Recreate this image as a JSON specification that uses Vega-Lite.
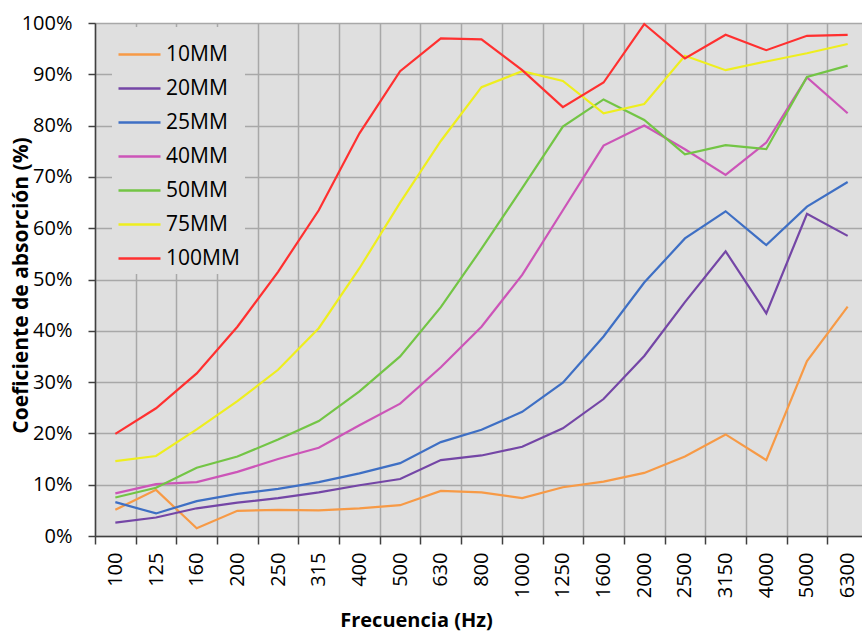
{
  "$schema": "https://vega.github.io/schema/vega-lite/v6.json",
  "width": 767,
  "height": 513,
  "autosize": {"type": "none"},
  "padding": {"left": 95, "top": 23, "right": 0, "bottom": 96},
  "background": "white",
  "config": {"view": {"fill": "#dfdfdf", "stroke": null}, "font": "Open Sans"},
  "datasets": {
    "raw": [
      {"s": "10MM", "f": "100", "v": 5.1}, {"s": "10MM", "f": "125", "v": 9.0}, {"s": "10MM", "f": "160", "v": 1.5}, {"s": "10MM", "f": "200", "v": 4.9}, {"s": "10MM", "f": "250", "v": 5.1}, {"s": "10MM", "f": "315", "v": 5.0}, {"s": "10MM", "f": "400", "v": 5.4}, {"s": "10MM", "f": "500", "v": 6.0}, {"s": "10MM", "f": "630", "v": 8.8}, {"s": "10MM", "f": "800", "v": 8.5}, {"s": "10MM", "f": "1000", "v": 7.4}, {"s": "10MM", "f": "1250", "v": 9.5}, {"s": "10MM", "f": "1600", "v": 10.6}, {"s": "10MM", "f": "2000", "v": 12.3}, {"s": "10MM", "f": "2500", "v": 15.5}, {"s": "10MM", "f": "3150", "v": 19.8}, {"s": "10MM", "f": "4000", "v": 14.8}, {"s": "10MM", "f": "5000", "v": 34.1}, {"s": "10MM", "f": "6300", "v": 44.7},
      {"s": "20MM", "f": "100", "v": 2.6}, {"s": "20MM", "f": "125", "v": 3.6}, {"s": "20MM", "f": "160", "v": 5.4}, {"s": "20MM", "f": "200", "v": 6.5}, {"s": "20MM", "f": "250", "v": 7.4}, {"s": "20MM", "f": "315", "v": 8.5}, {"s": "20MM", "f": "400", "v": 9.9}, {"s": "20MM", "f": "500", "v": 11.1}, {"s": "20MM", "f": "630", "v": 14.8}, {"s": "20MM", "f": "800", "v": 15.7}, {"s": "20MM", "f": "1000", "v": 17.4}, {"s": "20MM", "f": "1250", "v": 21.0}, {"s": "20MM", "f": "1600", "v": 26.7}, {"s": "20MM", "f": "2000", "v": 35.1}, {"s": "20MM", "f": "2500", "v": 45.6}, {"s": "20MM", "f": "3150", "v": 55.5}, {"s": "20MM", "f": "4000", "v": 43.4}, {"s": "20MM", "f": "5000", "v": 62.8}, {"s": "20MM", "f": "6300", "v": 58.5},
      {"s": "25MM", "f": "100", "v": 6.6}, {"s": "25MM", "f": "125", "v": 4.4}, {"s": "25MM", "f": "160", "v": 6.8}, {"s": "25MM", "f": "200", "v": 8.2}, {"s": "25MM", "f": "250", "v": 9.2}, {"s": "25MM", "f": "315", "v": 10.5}, {"s": "25MM", "f": "400", "v": 12.2}, {"s": "25MM", "f": "500", "v": 14.2}, {"s": "25MM", "f": "630", "v": 18.3}, {"s": "25MM", "f": "800", "v": 20.7}, {"s": "25MM", "f": "1000", "v": 24.2}, {"s": "25MM", "f": "1250", "v": 29.9}, {"s": "25MM", "f": "1600", "v": 38.9}, {"s": "25MM", "f": "2000", "v": 49.4}, {"s": "25MM", "f": "2500", "v": 58.0}, {"s": "25MM", "f": "3150", "v": 63.3}, {"s": "25MM", "f": "4000", "v": 56.7}, {"s": "25MM", "f": "5000", "v": 64.2}, {"s": "25MM", "f": "6300", "v": 69.0},
      {"s": "40MM", "f": "100", "v": 8.3}, {"s": "40MM", "f": "125", "v": 10.1}, {"s": "40MM", "f": "160", "v": 10.5}, {"s": "40MM", "f": "200", "v": 12.5}, {"s": "40MM", "f": "250", "v": 15.0}, {"s": "40MM", "f": "315", "v": 17.2}, {"s": "40MM", "f": "400", "v": 21.6}, {"s": "40MM", "f": "500", "v": 25.8}, {"s": "40MM", "f": "630", "v": 32.9}, {"s": "40MM", "f": "800", "v": 40.8}, {"s": "40MM", "f": "1000", "v": 50.9}, {"s": "40MM", "f": "1250", "v": 63.5}, {"s": "40MM", "f": "1600", "v": 76.1}, {"s": "40MM", "f": "2000", "v": 80.0}, {"s": "40MM", "f": "2500", "v": 75.4}, {"s": "40MM", "f": "3150", "v": 70.4}, {"s": "40MM", "f": "4000", "v": 76.7}, {"s": "40MM", "f": "5000", "v": 89.4}, {"s": "40MM", "f": "6300", "v": 82.4},
      {"s": "50MM", "f": "100", "v": 7.5}, {"s": "50MM", "f": "125", "v": 9.4}, {"s": "50MM", "f": "160", "v": 13.3}, {"s": "50MM", "f": "200", "v": 15.5}, {"s": "50MM", "f": "250", "v": 18.8}, {"s": "50MM", "f": "315", "v": 22.4}, {"s": "50MM", "f": "400", "v": 28.2}, {"s": "50MM", "f": "500", "v": 35.0}, {"s": "50MM", "f": "630", "v": 44.6}, {"s": "50MM", "f": "800", "v": 56.0}, {"s": "50MM", "f": "1000", "v": 67.8}, {"s": "50MM", "f": "1250", "v": 79.8}, {"s": "50MM", "f": "1600", "v": 85.1}, {"s": "50MM", "f": "2000", "v": 81.1}, {"s": "50MM", "f": "2500", "v": 74.4}, {"s": "50MM", "f": "3150", "v": 76.2}, {"s": "50MM", "f": "4000", "v": 75.4}, {"s": "50MM", "f": "5000", "v": 89.5}, {"s": "50MM", "f": "6300", "v": 91.7},
      {"s": "75MM", "f": "100", "v": 14.6}, {"s": "75MM", "f": "125", "v": 15.6}, {"s": "75MM", "f": "160", "v": 20.8}, {"s": "75MM", "f": "200", "v": 26.3}, {"s": "75MM", "f": "250", "v": 32.4}, {"s": "75MM", "f": "315", "v": 40.5}, {"s": "75MM", "f": "400", "v": 52.2}, {"s": "75MM", "f": "500", "v": 65.0}, {"s": "75MM", "f": "630", "v": 77.0}, {"s": "75MM", "f": "800", "v": 87.5}, {"s": "75MM", "f": "1000", "v": 90.6}, {"s": "75MM", "f": "1250", "v": 88.7}, {"s": "75MM", "f": "1600", "v": 82.4}, {"s": "75MM", "f": "2000", "v": 84.2}, {"s": "75MM", "f": "2500", "v": 93.6}, {"s": "75MM", "f": "3150", "v": 90.8}, {"s": "75MM", "f": "4000", "v": 92.5}, {"s": "75MM", "f": "5000", "v": 94.1}, {"s": "75MM", "f": "6300", "v": 95.9},
      {"s": "100MM", "f": "100", "v": 19.9}, {"s": "100MM", "f": "125", "v": 24.9}, {"s": "100MM", "f": "160", "v": 31.7}, {"s": "100MM", "f": "200", "v": 40.8}, {"s": "100MM", "f": "250", "v": 51.5}, {"s": "100MM", "f": "315", "v": 63.5}, {"s": "100MM", "f": "400", "v": 78.5}, {"s": "100MM", "f": "500", "v": 90.6}, {"s": "100MM", "f": "630", "v": 97.0}, {"s": "100MM", "f": "800", "v": 96.8}, {"s": "100MM", "f": "1000", "v": 90.8}, {"s": "100MM", "f": "1250", "v": 83.6}, {"s": "100MM", "f": "1600", "v": 88.4}, {"s": "100MM", "f": "2000", "v": 99.8}, {"s": "100MM", "f": "2500", "v": 93.1}, {"s": "100MM", "f": "3150", "v": 97.7}, {"s": "100MM", "f": "4000", "v": 94.7}, {"s": "100MM", "f": "5000", "v": 97.5}, {"s": "100MM", "f": "6300", "v": 97.7}
    ]
  },
  "data": {"name": "raw"},
  "mark": {"type": "line", "strokeWidth": 2.2},
  "encoding": {
    "x": {
      "field": "f",
      "type": "ordinal",
      "sort": ["100", "125", "160", "200", "250", "315", "400", "500", "630", "800", "1000", "1250", "1600", "2000", "2500", "3150", "4000", "5000", "6300"],
      "scale": {
        "domain": ["100", "125", "160", "200", "250", "315", "400", "500", "630", "800", "1000", "1250", "1600", "2000", "2500", "3150", "4000", "5000", "6300"],
        "range": [0, 773],
        "paddingInner": 0,
        "paddingOuter": 0
      },
      "axis": {
        "title": "Frecuencia (Hz)",
        "tickBand": "extent",
        "labelAngle": 270,
        "labelAlign": "right",
        "labelBaseline": "middle",
        "labelFontSize": 20,
        "labelColor": "#000000",
        "labelPadding": 8,
        "tickSize": 8,
        "tickColor": "#404040",
        "tickWidth": 1.5,
        "domainColor": "#404040",
        "domainWidth": 1.5,
        "grid": true,
        "gridColor": "#a8a8a8",
        "gridWidth": 1.5,
        "titleFontSize": 20,
        "titleFontWeight": "bold",
        "titleColor": "#000000",
        "titleX": 321,
        "titleY": 90,
        "titleAlign": "center",
        "titleBaseline": "alphabetic"
      }
    },
    "y": {
      "field": "v",
      "type": "quantitative",
      "scale": {"domain": [0, 100]},
      "axis": {
        "title": "Coeficiente de absorción (%)",
        "values": [0, 10, 20, 30, 40, 50, 60, 70, 80, 90, 100],
        "labelExpr": "datum.value + '%'",
        "labelFontSize": 20,
        "labelColor": "#000000",
        "labelPadding": 16,
        "tickSize": 7,
        "tickColor": "#404040",
        "tickWidth": 1.5,
        "domainColor": "#404040",
        "domainWidth": 1.5,
        "grid": true,
        "gridColor": "#a8a8a8",
        "gridWidth": 1.5,
        "titleFontSize": 21,
        "titleFontWeight": "bold",
        "titleColor": "#000000",
        "titleAngle": 270,
        "titleX": -64,
        "titleY": 262,
        "titleAlign": "center",
        "titleBaseline": "bottom"
      }
    },
    "color": {
      "field": "s",
      "type": "nominal",
      "scale": {
        "domain": ["10MM", "20MM", "25MM", "40MM", "50MM", "75MM", "100MM"],
        "range": ["#f79a46", "#7446a6", "#3e6fc4", "#cc55b8", "#73c545", "#eeee1e", "#ff3030"]
      },
      "legend": {
        "title": null,
        "orient": "none",
        "legendX": 17,
        "legendY": 4,
        "fillColor": "#dfdfdf",
        "padding": 5,
        "symbolType": "stroke",
        "symbolSize": 1764,
        "symbolStrokeWidth": 2.5,
        "labelFontSize": 21,
        "labelColor": "#000000",
        "labelOffset": 4,
        "rowPadding": 1
      }
    }
  }
}
